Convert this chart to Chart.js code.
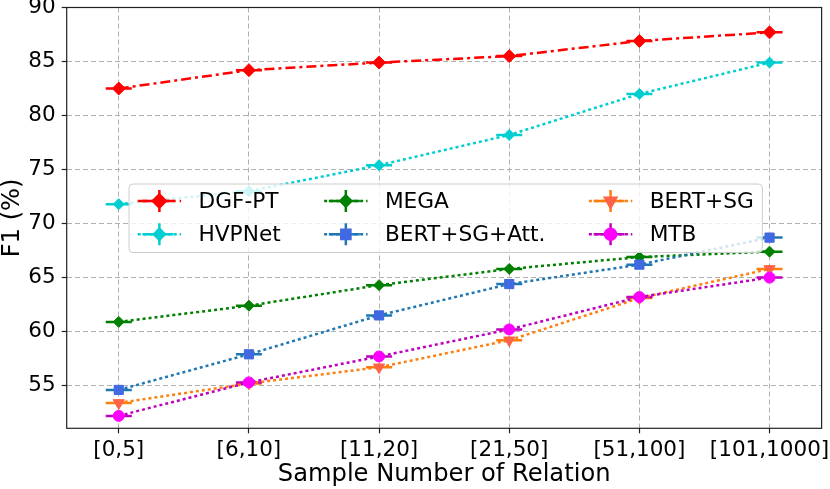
<!DOCTYPE html>
<html>
<head>
<meta charset="utf-8">
<script src="https://cdn.jsdelivr.net/npm/chart.js@4.4.1/dist/chart.umd.min.js"></script>
<style>
  html, body { margin: 0; padding: 0; background: #fff; }
  #wrap { width: 830px; height: 489px; }
</style>
</head>
<body>
<div id="wrap"><canvas id="f1Chart" width="830" height="489"></canvas></div>
<script>
// カテゴリ (x軸)
const categories = ['[0,5]', '[6,10]', '[11,20]', '[21,50]', '[51,100]', '[101,1000]'];
// y軸の目盛り
const yTicks = [55, 60, 65, 70, 75, 80, 85, 90];

// 各手法の F1 値
const dgfPt     = [82.5, 84.2, 84.9, 85.5, 86.9, 87.7];
const hvpNet    = [71.8, 73.0, 75.4, 78.2, 82.0, 84.9];
const mega      = [60.9, 62.4, 64.3, 65.8, 66.9, 67.4];
const bertSgAtt = [54.6, 57.9, 61.5, 64.4, 66.2, 68.7];
const bertSg    = [53.4, 55.2, 56.7, 59.2, 63.1, 65.8];
const mtb       = [52.2, 55.3, 57.7, 60.2, 63.2, 65.0];

const FONT = 'DejaVu Sans';
const FS_TICK = 21.5;
const FS_TITLE = 24.2;
const FS_LEG = 21.7;

const toPoints = arr => arr.map((v, i) => ({ x: i, y: v }));

// 系列ごとの見た目
const series = [
    { label: 'DGF-PT',       data: dgfPt,     line: '#ff0000', fill: '#ff0000', dash: [10, 4, 3, 4], style: 'rectRot',  radius: 6.5, rot: 0 },
    { label: 'HVPNet',       data: hvpNet,    line: '#00ced1', fill: '#00ced1', dash: [3, 3],        style: 'rectRot',  radius: 5.5, rot: 0 },
    { label: 'MEGA',         data: mega,      line: '#008000', fill: '#008000', dash: [3, 3],        style: 'rectRot',  radius: 5.5, rot: 0 },
    { label: 'BERT+SG+Att.', data: bertSgAtt, line: '#1f77b4', fill: '#4169e1', dash: [3, 3],        style: 'rect',     radius: 6.5, rot: 0 },
    { label: 'BERT+SG',      data: bertSg,    line: '#ff7f0e', fill: '#ff6347', dash: [3, 3],        style: 'triangle', radius: 6.5, rot: 180 },
    { label: 'MTB',          data: mtb,       line: '#bf00bf', fill: '#ff00ff', dash: [3, 3],        style: 'circle',   radius: 5.5, rot: 0 }
];

const XERR = 0.1;
const YERR = 0.35;

// エラーバー
const errorBarPlugin = {
    id: 'errorBars',
    beforeDatasetsDraw(chart) {
        const ctx = chart.ctx;
        const xs = chart.scales.x, ys = chart.scales.y;
        ctx.save();
        series.forEach(s => {
            ctx.strokeStyle = s.line;
            ctx.lineWidth = 2.5;
            ctx.setLineDash([]);
            s.data.forEach((v, j) => {
                const px = xs.getPixelForValue(j), py = ys.getPixelForValue(v);
                ctx.beginPath();
                ctx.moveTo(xs.getPixelForValue(j - XERR), py);
                ctx.lineTo(xs.getPixelForValue(j + XERR), py);
                ctx.moveTo(px, ys.getPixelForValue(v - YERR));
                ctx.lineTo(px, ys.getPixelForValue(v + YERR));
                ctx.stroke();
            });
        });
        ctx.restore();
    }
};

// 枠線
const framePlugin = {
    id: 'frame',
    afterDatasetsDraw(chart) {
        const a = chart.chartArea, ctx = chart.ctx;
        ctx.save();
        ctx.strokeStyle = '#222';
        ctx.lineWidth = 1.2;
        ctx.setLineDash([]);
        ctx.strokeRect(a.left, a.top, a.right - a.left, a.bottom - a.top);
        ctx.restore();
    }
};

// 凡例 (3列、列方向に並ぶ)
const legendPlugin = {
    id: 'mplLegend',
    afterDraw(chart) {
        const ctx = chart.ctx;
        ctx.save();
        ctx.font = FS_LEG + 'px "' + FONT + '"';
        const left = 129, top = 184, height = 68.5, rowH = 33.3, pad = 0.4 * FS_LEG;
        const handleLen = 2 * FS_LEG, textPad = 0.8 * FS_LEG, colSpace = 2 * FS_LEG;
        const cols = [[0, 1], [2, 3], [4, 5]];
        const colX = [];
        let x = left + pad;
        cols.forEach(c => {
            colX.push(x);
            const w = Math.max(...c.map(k => ctx.measureText(series[k].label).width));
            x += handleLen + textPad + w + colSpace;
        });
        const right = x - colSpace + pad;

        ctx.fillStyle = 'rgba(255,255,255,0.8)';
        ctx.strokeStyle = '#cccccc';
        ctx.lineWidth = 1;
        ctx.beginPath();
        ctx.roundRect(left, top, right - left, height, 4);
        ctx.fill();
        ctx.stroke();

        cols.forEach((c, ci) => {
            c.forEach((k, ri) => {
                const s = series[k];
                const hx = colX[ci];
                const cy = top + 17 + rowH * ri;
                const cx = hx + handleLen / 2;
                ctx.strokeStyle = s.line;
                ctx.lineWidth = 2.5;
                ctx.setLineDash(s.dash);
                ctx.beginPath();
                ctx.moveTo(hx, cy);
                ctx.lineTo(hx + handleLen, cy);
                ctx.stroke();
                ctx.setLineDash([]);
                ctx.beginPath();
                ctx.moveTo(cx - 17, cy);
                ctx.lineTo(cx + 14, cy);
                ctx.moveTo(cx, cy - 11);
                ctx.lineTo(cx, cy + 11);
                ctx.stroke();
                ctx.fillStyle = s.fill;
                ctx.strokeStyle = s.fill;
                Chart.helpers.drawPoint(ctx, { pointStyle: s.style, radius: s.radius, rotation: s.rot, borderWidth: 1 }, cx, cy);
                ctx.fillStyle = '#000';
                ctx.textBaseline = 'middle';
                ctx.textAlign = 'left';
                ctx.fillText(s.label, hx + handleLen + textPad, cy + 1);
            });
        });
        ctx.restore();
    }
};

const datasets = series.map((s, i) => ({
    label: s.label,
    data: toPoints(s.data),
    borderColor: s.line,
    backgroundColor: s.fill,
    borderWidth: 2.5,
    borderDash: s.dash,
    borderCapStyle: 'butt',
    pointStyle: s.style,
    pointRadius: s.radius,
    pointRotation: s.rot,
    pointBackgroundColor: s.fill,
    pointBorderColor: s.fill,
    pointBorderWidth: 1,
    tension: 0,
    order: series.length - 1 - i
}));

const chartContext = document.getElementById('f1Chart').getContext('2d');
const chartInstance = new Chart(chartContext, {
    type: 'line',
    data: { datasets: datasets },
    options: {
        responsive: false,
        devicePixelRatio: 1,
        animation: false,
        layout: { padding: { left: 0, right: 8.4, top: 7.3, bottom: 0 } },
        plugins: { legend: { display: false }, tooltip: { enabled: false } },
        scales: {
            x: {
                type: 'linear',
                min: -0.4,
                max: 5.4,
                afterBuildTicks: axis => { axis.ticks = categories.map((c, i) => ({ value: i })); },
                afterFit: axis => { axis.height = 60.7; axis.paddingLeft = 0; axis.paddingRight = 0; },
                ticks: {
                    color: '#000',
                    font: { family: FONT, size: FS_TICK },
                    padding: 4,
                    maxRotation: 0,
                    autoSkip: false,
                    callback: v => categories[v]
                },
                grid: { color: '#b0b0b0', lineWidth: 1, tickColor: '#222', tickLength: 5, tickWidth: 1.2 },
                border: { display: false, dash: [5, 3] },
                title: { display: true, text: 'Sample Number of Relation', color: '#000', font: { family: FONT, size: FS_TITLE }, padding: { top: 0, bottom: 0 } }
            },
            y: {
                type: 'linear',
                min: 51.05,
                max: 90,
                afterBuildTicks: axis => { axis.ticks = yTicks.map(v => ({ value: v })); },
                afterFit: axis => { axis.width = 66.7; axis.paddingTop = 0; axis.paddingBottom = 0; },
                ticks: {
                    color: '#000',
                    font: { family: FONT, size: FS_TICK },
                    padding: 6
                },
                grid: { color: '#b0b0b0', lineWidth: 1, tickColor: '#222', tickLength: 5, tickWidth: 1.2 },
                border: { display: false, dash: [5, 3] },
                title: { display: true, text: 'F1 (%)', color: '#000', font: { family: FONT, size: FS_TITLE }, padding: { top: -1.5, bottom: 0 } }
            }
        }
    },
    plugins: [errorBarPlugin, framePlugin, legendPlugin]
});
</script>
</body>
</html>
